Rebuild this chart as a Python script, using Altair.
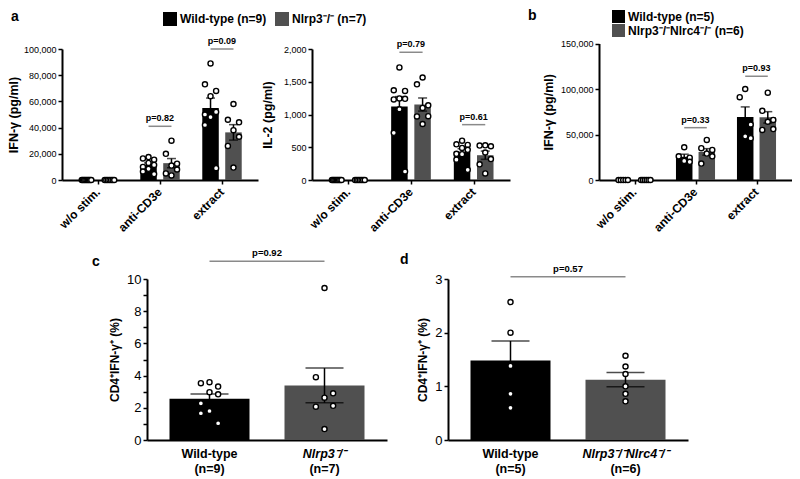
import altair as alt

FONT = "Liberation Sans"
W, H = 784, 471
WT_COLOR = "#000000"
KO_COLOR = "#505050"
P_COLOR = "#8a8a8a"

# ---------------- data ----------------
categories = ["w/o stim.", "anti-CD3e", "extract"]

# Panel a (left): IFN-γ (pg/ml); wild-type n=9, Nlrp3-/- n=7
a_ifng_wt = [
    [0, 0, 0, 0, 0, 0, 0, 0, 0],
    [17500, 16500, 15500, 13000, 11500, 10000, 8500, 6500, 4500],
    [89000, 73000, 68000, 64000, 52000, 50000, 48000, 42000, 9000],
]
a_ifng_ko = [
    [0, 0, 0, 0, 0, 0, 0],
    [30000, 20000, 12500, 11000, 8000, 5000, 3500],
    [58000, 46000, 44000, 38000, 33000, 26000, 9500],
]
a_ifng_p_cat = [1, 2]
a_ifng_p = ["0.82", "0.09"]
a_ifng_p_h = [41000, 100000]

# Panel a (right): IL-2 (pg/ml)
a_il2_wt = [
    [0, 0, 0, 0, 0, 0, 0, 0, 0],
    [1718, 1370, 1360, 1245, 1240, 1230, 1080, 720, 130],
    [600, 545, 535, 490, 460, 400, 395, 310, 155],
]
a_il2_ko = [
    [0, 0, 0, 0, 0, 0, 0],
    [1565, 1460, 1140, 1100, 975, 970, 855],
    [530, 525, 515, 420, 320, 240, 100],
]
a_il2_p_cat = [1, 2]
a_il2_p = ["0.79", "0.61"]
a_il2_p_h = [1950, 845]

# Panel b: IFN-γ (pg/ml); wild-type n=5, Nlrp3-/-Nlrc4-/- n=6
b_ifng_wt = [
    [0, 0, 0, 0, 0],
    [36000, 26000, 24500, 21000, 20000],
    [100000, 91000, 61000, 48000, 46000],
]
b_ifng_ko = [
    [0, 0, 0, 0, 0, 0],
    [44000, 35000, 33000, 29000, 26000, 18000],
    [96000, 76000, 66000, 64000, 56000, 55000],
]
b_ifng_p_cat = [1, 2]
b_ifng_p = ["0.33", "0.93"]
b_ifng_p_h = [57500, 114000]

# Panel c: CD4+IFN-γ+ (%)
c_wt = [[3.59, 3.53, 3.32, 2.97, 2.84, 2.28, 1.80, 1.66, 1.04]]
c_ko = [[9.44, 3.90, 2.90, 2.63, 2.12, 2.07, 0.68]]
c_p_cat = [0]
c_p = ["0.92"]
c_p_h = [11.1]

# Panel d: CD4+IFN-γ+ (%)
d_wt = [[2.57, 2.00, 1.38, 0.86, 0.60]]
d_ko = [[1.57, 1.37, 1.23, 1.00, 0.86, 0.72]]
d_p_cat = [0]
d_p = ["0.57"]
d_p_h = [3.04]

legend_a = ["Wild-type (n=9)", "Nlrp3⁻/⁻ (n=7)"]
legend_b = ["Wild-type (n=5)", "Nlrp3⁻/⁻Nlrc4⁻/⁻ (n=6)"]
c_labels = [["Wild-type", "(n=9)"], ["Nlrp3⁻/⁻", "(n=7)"]]
d_labels = [["Wild-type", "(n=5)"], ["Nlrp3⁻/⁻Nlrc4⁻/⁻", "(n=6)"]]
panel_letters = ["a", "b", "c", "d"]


def build_rows(wt, ko):
    rows = []
    for ci, (w, k) in enumerate(zip(wt, ko)):
        for gi, vals in enumerate((w, k)):
            for v in vals:
                rows.append({"ci": ci, "gi": gi, "geno": ["WT", "KO"][gi], "value": v})
    return rows


def build_p(cats, ps, hs):
    return [{"ci": c, "p": p, "h": h} for c, p, h in zip(cats, ps, hs)]


AX_COMMON = dict(
    grid=False, domainColor="black", domainWidth=2, tickColor="black",
    tickWidth=1.5, labelColor="black", labelFont=FONT, titleFont=FONT,
    titleColor="black", titleFontWeight="bold", labelFlush=False,
    labelOverlap=False, minExtent=0,
)


def cat_axis(offset):
    return alt.Axis(title=None, orient="bottom", offset=offset, values=[0, 1, 2],
                    labels=False, tickSize=4, **AX_COMMON)


def group_axis(offset):
    return alt.Axis(title=None, orient="bottom", offset=offset, values=[-0.5, 0.5],
                    labels=False, ticks=False, **AX_COMMON)


def val_axis(title, offset, values, fmt, fs, tfs, tpad, expr=None):
    kw = dict(title=title, orient="left", offset=offset, values=values,
              labelFontSize=fs, labelPadding=2, tickSize=4,
              titleFontSize=tfs, titlePadding=tpad, **AX_COMMON)
    if fmt:
        kw["format"] = fmt
    if expr:
        kw["labelExpr"] = expr
    return alt.Axis(**kw)


def make_panel(rows, prow, cfg, legend):
    xs = alt.Scale(domain=cfg["xdomain"], range=cfg["xrange"], nice=False, zero=False)
    ys = alt.Scale(domain=[0, cfg["ymax"]], range=cfg["yrange"], nice=False, zero=True)
    xaxis, yaxis = cfg["xaxis"], cfg["yaxis"]

    def X(f):
        return alt.X(f, scale=xs, axis=xaxis)

    def Y(f, **k):
        return alt.Y(f, scale=ys, axis=yaxis, **k)

    span = 2 * cfg["half"]
    base = alt.Chart(alt.Data(values=rows)).transform_calculate(
        center=f"datum.ci + (datum.gi - 0.5) * {span}")
    agg = base.transform_aggregate(
        mean="mean(value)", sem="stderr(value)", groupby=["center", "geno"]
    ).transform_calculate(lo="datum.mean - datum.sem", hi="datum.mean + datum.sem")

    bars = agg.mark_bar(size=cfg["barw"], orient="vertical").encode(
        x=X("center:Q"), y=Y("mean:Q", stack=None),
        color=alt.Color("geno:N", scale=alt.Scale(domain=["WT", "KO"], range=[WT_COLOR, KO_COLOR]),
                        legend=legend))
    err = agg.mark_rule(color="black", strokeWidth=1.5).encode(
        x=X("center:Q"), y=Y("lo:Q"), y2="hi:Q")
    caps = agg.transform_fold(["lo", "hi"], as_=["end", "ev"]).mark_tick(
        orient="horizontal", size=cfg["capw"], thickness=1.5, color="black"
    ).encode(x=X("center:Q"), y=Y("ev:Q"))

    jit = (f"datum.value == 0 ? {cfg['zspread']} * ((datum.rn - 1) - (datum.n - 1) / 2) / max(datum.n - 1, 1)"
           f" : [0, -1, 1, 0, 1, -1, 0, -1, 1][(datum.rn - 1) % 9] * {cfg['amp']}")
    pts = (base
           .transform_window(rn="row_number()", groupby=["ci", "gi"],
                             sort=[alt.SortField("value", order="descending")])
           .transform_joinaggregate(n="count()", groupby=["ci", "gi"])
           .transform_calculate(jit=jit)
           .transform_calculate(px="datum.center + datum.jit")
           .mark_circle(size=26, fill="white", stroke="black", strokeWidth=1.4, opacity=1)
           .encode(x=X("px:Q"), y=Y("value:Q")))

    pbase = alt.Chart(alt.Data(values=prow)).transform_calculate(
        xa=f"datum.ci - {cfg['half']}", xb=f"datum.ci + {cfg['half']}", label="'p=' + datum.p")
    brk = pbase.mark_rule(color=P_COLOR, strokeWidth=1.5).encode(
        x=X("xa:Q"), x2="xb:Q", y=Y("h:Q"))
    ptxt = pbase.mark_text(baseline="bottom", dy=-3, font=FONT, fontSize=cfg["pfs"],
                           fontWeight="bold", color="black").encode(
        x=X("ci:Q"), y=Y("h:Q"), text="label:N")
    layers = [bars, err, caps, pts, brk, ptxt]

    y0 = cfg["yrange"][0]
    if cfg.get("catlabels"):
        cat_rows = [{"ci": i, "cat": c} for i, c in enumerate(categories)]
        catl = alt.Chart(alt.Data(values=cat_rows)).mark_text(
            angle=315, align="right", baseline="middle", font=FONT, fontSize=12,
            fontWeight="bold", color="black"
        ).encode(x=X("ci:Q"), y=alt.value(y0 + 10), text="cat:N")
        layers.append(catl)
    if cfg.get("grouplabels"):
        g_rows = [{"gx": gi - 0.5, "gi": gi, "l1": l[0], "l2": l[1]}
                  for gi, l in enumerate(cfg["grouplabels"])]
        gbase = alt.Chart(alt.Data(values=g_rows))
        common = dict(align="center", baseline="top", font=FONT, fontSize=12.5,
                      fontWeight="bold", color="black")
        for gi, style in ((0, "normal"), (1, "italic")):
            layers.append(
                gbase.transform_filter(f"datum.gi == {gi}")
                .mark_text(fontStyle=style, **common)
                .encode(x=X("gx:Q"), y=alt.value(y0 + 8), text="l1:N"))
        layers.append(
            gbase.mark_text(**common).encode(x=X("gx:Q"), y=alt.value(y0 + 22.5), text="l2:N"))
    return alt.layer(*layers)


def legend_expr(labels):
    return f"datum.label == 'WT' ? '{labels[0]}' : '{labels[1]}'"


LEG_COMMON = dict(title=None, symbolType="square", symbolStrokeWidth=0, symbolOpacity=1,
                  labelFont=FONT, labelFontSize=12, labelFontWeight="bold",
                  labelColor="black", labelOffset=3, padding=0, offset=0, labelLimit=300)

leg_a = alt.Legend(orient="none", legendX=155, legendY=4, direction="horizontal",
                   symbolSize=196, columnPadding=8, labelExpr=legend_expr(legend_a), **LEG_COMMON)
leg_b = alt.Legend(orient="none", legendX=604, legendY=2, direction="vertical",
                   symbolSize=169, rowPadding=1, labelExpr=legend_expr(legend_b), **LEG_COMMON)

A_CFG = dict(xdomain=[-0.5, 2.5], half=0.185, barw=16.5, capw=9, amp=0.09, zspread=0.154,
             pfs=9, catlabels=True)

cfg_a1 = dict(A_CFG, xrange=[54, 250], yrange=[172, 41], ymax=100000,
              xaxis=cat_axis(172 - H),
              yaxis=val_axis("IFN-γ (pg/ml)", -54, [0, 20000, 40000, 60000, 80000, 100000],
                             ",d", 9, 12.5, 3))
cfg_a2 = dict(A_CFG, xrange=[304, 502], yrange=[172, 41], ymax=2000,
              xaxis=cat_axis(172 - H),
              yaxis=val_axis("IL-2 (pg/ml)", -304, [0, 500, 1000, 1500, 2000], ",d", 9, 12.5, 9))
cfg_b = dict(A_CFG, xrange=[591, 784], yrange=[172, 35.5], ymax=150000,
             xaxis=cat_axis(172 - H),
             yaxis=val_axis("IFN-γ (pg/ml)", -591, [0, 50000, 100000, 150000], ",d", 9, 12.5, 5))
C_CFG = dict(xdomain=[-1, 1], half=0.5, barw=80, capw=38, zspread=0, pfs=9.5,
             yrange=[432, 271])
cfg_c = dict(C_CFG, xrange=[139, 379], ymax=10, amp=0.075, grouplabels=c_labels,
             xaxis=group_axis(432 - H),
             yaxis=val_axis("CD4⁺IFN-γ⁺ (%)", -139, list(range(0, 11)), None, 13, 12, 5.5,
                            expr="datum.value % 2 == 0 ? datum.label : ''"))
cfg_d = dict(C_CFG, xrange=[440, 680], ymax=3, amp=0, grouplabels=d_labels,
             xaxis=group_axis(432 - H),
             yaxis=val_axis("CD4⁺IFN-γ⁺ (%)", -440, [0, 1, 2, 3], None, 13, 12, 5))

pa1 = make_panel(build_rows(a_ifng_wt, a_ifng_ko), build_p(a_ifng_p_cat, a_ifng_p, a_ifng_p_h), cfg_a1, leg_a)
pa2 = make_panel(build_rows(a_il2_wt, a_il2_ko), build_p(a_il2_p_cat, a_il2_p, a_il2_p_h), cfg_a2, None)
pb = make_panel(build_rows(b_ifng_wt, b_ifng_ko), build_p(b_ifng_p_cat, b_ifng_p, b_ifng_p_h), cfg_b, leg_b)
pc = make_panel(build_rows(c_wt, c_ko), build_p(c_p_cat, c_p, c_p_h), cfg_c, None)
pd_ = make_panel(build_rows(d_wt, d_ko), build_p(d_p_cat, d_p, d_p_h), cfg_d, None)

letter_pos = [(3, 13), (520, 12), (84, 258), (392, 256)]
letter_layers = [
    alt.Chart(alt.Data(values=[{"t": t}])).mark_text(
        align="left", baseline="alphabetic", font=FONT, fontSize=14, fontWeight="bold", color="black"
    ).encode(x=alt.value(x), y=alt.value(y), text="t:N")
    for t, (x, y) in zip(panel_letters, letter_pos)
]

chart = (
    alt.layer(pa1, pa2, pb, pc, pd_, *letter_layers)
    .resolve_scale(x="independent", y="independent", color="independent")
    .resolve_axis(x="independent", y="independent")
    .resolve_legend(color="independent")
    .properties(width=W, height=H, autosize=alt.AutoSizeParams(type="none"), padding=0)
    .configure_view(stroke=None)
)

chart.save("out.html", embed_options={"renderer": "svg", "actions": False})
